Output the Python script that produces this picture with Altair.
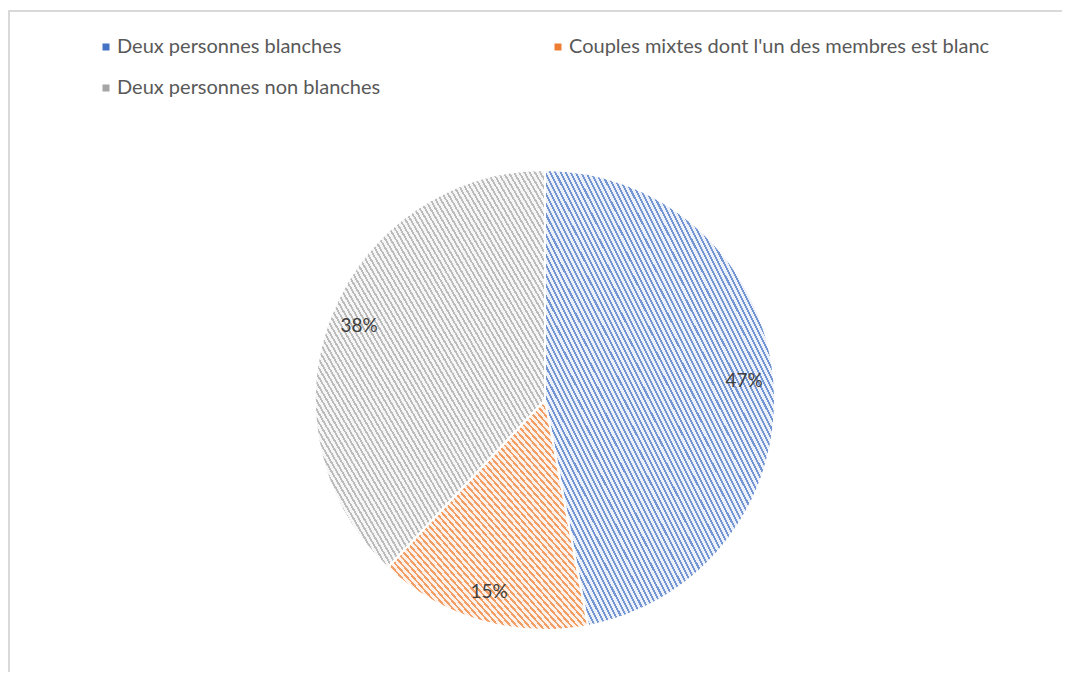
import altair as alt
import pandas as pd

categories = [
    "Deux personnes blanches",
    "Couples mixtes dont l'un des membres est blanc",
    "Deux personnes non blanches",
]
values = [47, 15, 38]
labels = ["47%", "15%", "38%"]
order_idx = [0, 1, 2]
colors = ["#4472C4", "#ED7D31", "#A5A5A5"]
stripe_counts = [90, 66, 88]

FONT = "Lato"

df = pd.DataFrame({"cat": categories, "value": values, "label": labels, "idx": order_idx})


def hatch(n, duty=0.6):
    clear = "rgba(255,255,255,0.25)"
    white = "rgba(255,255,255,0.9)"
    stops = []
    for k in range(n):
        a = round(k / n, 5)
        b = round((k + duty) / n, 5)
        c = round((k + 1) / n, 5)
        stops += [
            {"offset": a, "color": white},
            {"offset": b, "color": white},
            {"offset": b, "color": clear},
            {"offset": c, "color": clear},
        ]
    return {"gradient": "linear", "x1": 0, "y1": 1, "x2": 1, "y2": 0, "stops": stops}


CX, CY, R = 533, 392, 230

base = alt.Chart(df).encode(
    theta=alt.Theta("value:Q", stack=True),
    order=alt.Order("idx:Q"),
    x=alt.value(CX),
    y=alt.value(CY),
)

pie = base.mark_arc(outerRadius=R).encode(
    color=alt.Color(
        "cat:N",
        scale=alt.Scale(domain=categories, range=colors),
        legend=alt.Legend(
            title=None,
            orient="none",
            legendX=84,
            legendY=29,
            direction="horizontal",
            columns=2,
            columnPadding=167,
            rowPadding=21,
            symbolType="square",
            symbolSize=49,
            symbolStrokeWidth=0,
            labelFontSize=20,
            labelFont=FONT,
            labelColor="#595959",
            labelOffset=1,
            labelLimit=0,
            padding=0,
        ),
    )
)

fill_def = {
    "condition": [
        {"test": "datum.idx === 0", "value": hatch(stripe_counts[0])},
        {"test": "datum.idx === 1", "value": hatch(stripe_counts[1])},
    ],
    "value": hatch(stripe_counts[2]),
}

hatch_layer = base.mark_arc(outerRadius=R, stroke="white", strokeWidth=2).encode(
    detail="cat:N",
    fill=fill_def,
)

text = base.mark_text(radius=200, fontSize=19, font=FONT, color="#404040").encode(
    text="label:N",
    detail="cat:N",
)

frame_top = alt.Chart(df).mark_rule(color="#d9d9d9", strokeWidth=1.5).encode(
    x=alt.value(-4), x2=alt.value(1100), y=alt.value(3)
)
frame_left = alt.Chart(df).mark_rule(color="#d9d9d9", strokeWidth=1.5).encode(
    x=alt.value(-3), y=alt.value(3), y2=alt.value(700)
)

chart = (
    alt.layer(frame_top, frame_left, pie, hatch_layer, text)
    .properties(
        width=1050,
        height=664,
        padding={"left": 4, "top": 0, "right": 0, "bottom": 0},
        autosize=alt.AutoSizeParams(type="none"),
        background="white",
    )
    .configure_view(stroke=None)
)

chart.save("out.html", embed_options={"renderer": "svg", "actions": False})
